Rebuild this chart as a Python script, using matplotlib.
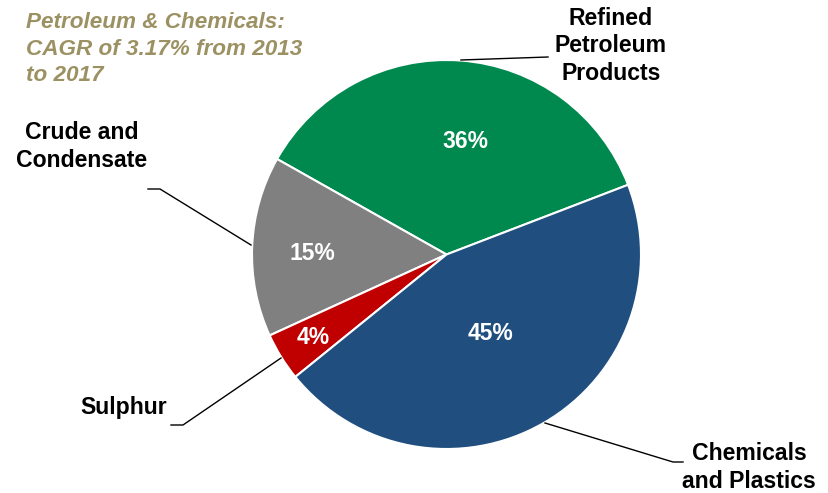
import matplotlib.pyplot as plt

plt.rcParams['font.family'] = ['Liberation Sans', 'DejaVu Sans']

# slices, counter-clockwise from the green/blue boundary
labels = ["Refined\nPetroleum\nProducts", "Crude and\nCondensate", "Sulphur", "Chemicals\nand Plastics"]
shares = [36, 15, 4, 45]
colors = ["#00894F", "#808080", "#C00000", "#1F4E7F"]

W, H = 829, 493
fig = plt.figure(figsize=(W / 100, H / 100), dpi=100)
ax = fig.add_axes([0, 0, 1, 1])

cx, cy, r = 446.5, H - 254.5, 194.5
wedges, texts = ax.pie(shares, colors=colors, startangle=21, counterclock=True,
                       center=(cx, cy), radius=r,
                       wedgeprops=dict(edgecolor="white", linewidth=1.5))
ax.set_xlim(0, W)
ax.set_ylim(0, H)
ax.set_aspect("equal")
ax.axis("off")

# percentage labels (pixel positions in image coords)
pct_pos = [(465, 142), (312, 253), (313, 338), (491, 333)]
for s, (x, y) in zip(shares, pct_pos):
    ax.text(x, H - y, f"{s}%", color="white", fontsize=16.5, fontweight="bold",
            ha="center", va="center")

# category labels and leader lines
label_pos = [(611, 45.5), (82, 146.5), (124, 408), (749, 467.5)]
leaders = [
    [(461, 60), (548, 57)],
    [(251, 245), (160, 189), (148, 189)],
    [(281, 358), (183, 425), (171, 425)],
    [(545, 423), (673, 462), (683, 462)],
]
for lab, (x, y), pts in zip(labels, label_pos, leaders):
    ax.text(x, H - y, lab, color="black", fontsize=16.6, fontweight="bold",
            ha="center", va="center", linespacing=1.25)
    ax.plot([p[0] for p in pts], [H - p[1] for p in pts], color="black", lw=1)

ax.text(26, H - 49, "Petroleum & Chemicals:\nCAGR of 3.17% from 2013\nto 2017",
        color="#9C9162", fontsize=16.2, fontweight="bold", fontstyle="italic",
        ha="left", va="center", linespacing=1.32)

fig.savefig("out.png", dpi=100)
